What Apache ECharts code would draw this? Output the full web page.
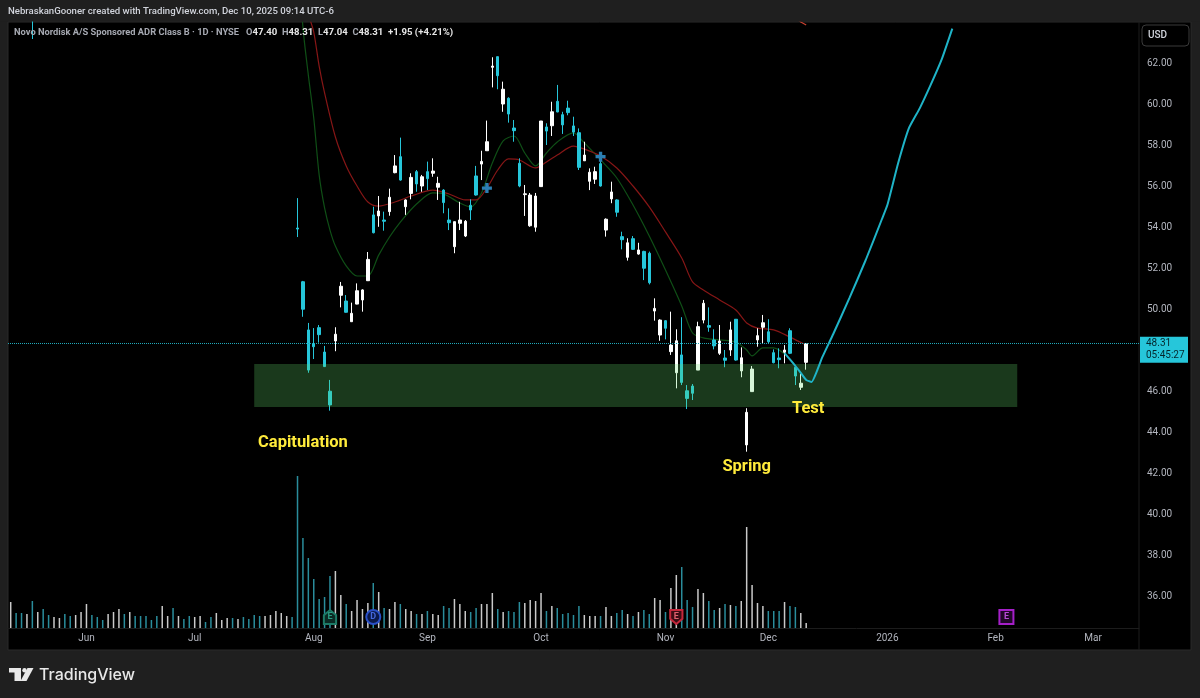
<!DOCTYPE html>
<html style="height: 100%">

<head>
  <meta charset="utf-8">
</head>

<body style="height: 100%; margin: 0; background: #1f1f1f">
  <div id="container" style="width: 1200px; height: 698px"></div>

  <script type="text/javascript" src="https://cdn.jsdelivr.net/npm/echarts/dist/echarts.min.js"></script>

  <script type="text/javascript">
    // trading-day slots on the time axis, future slots included
    var slotCount = 209;
    var monthSlots = [14, 34, 56, 77, 98, 121, 140, 162, 182, 200];
    var monthNames = ['Jun', 'Jul', 'Aug', 'Sep', 'Oct', 'Nov', 'Dec', '2026', 'Feb', 'Mar'];

    // open, close, low, high -- first visible candle sits in slot 53
    var candleStart = 53;
    var candles = [
      [53.95, 53.90, 53.51, 55.41], [51.33, 49.99, 49.62, 51.37], [48.98, 47.02, 46.89, 49.32], [48.29, 48.16, 47.56, 49.07],
      [49.09, 48.75, 48.36, 49.22], [47.90, 47.19, 47.17, 48.20], [45.99, 45.32, 45.04, 46.54], [48.44, 48.77, 47.94, 49.11],
      [50.67, 51.11, 50.08, 51.32], [50.39, 49.84, 49.82, 50.68], [49.38, 49.79, 49.37, 50.31], [50.24, 50.89, 50.23, 51.25],
      [50.44, 50.93, 49.87, 50.96], [51.38, 52.42, 51.37, 52.78], [54.59, 53.72, 53.69, 54.99], [54.54, 54.78, 54.01, 55.51],
      [54.34, 54.28, 53.82, 54.75], [54.75, 55.45, 54.55, 55.87], [56.65, 56.98, 56.62, 57.51], [57.43, 56.29, 56.26, 58.36],
      [54.99, 55.32, 54.59, 55.35], [55.64, 56.42, 55.35, 56.62], [56.70, 56.10, 55.72, 56.78], [56.00, 56.45, 55.72, 56.54],
      [56.70, 56.36, 55.80, 57.19], [56.62, 56.73, 56.45, 57.35], [55.94, 56.13, 55.32, 56.45], [55.80, 55.19, 54.67, 55.84],
      [54.34, 54.21, 53.85, 54.91], [53.04, 54.26, 52.72, 54.26], [54.18, 54.34, 53.85, 55.23], [53.56, 54.28, 53.51, 54.34],
      [55.06, 54.83, 54.34, 55.35], [56.49, 55.56, 55.53, 56.98], [57.07, 57.20, 56.29, 57.72], [57.72, 58.16, 57.72, 59.19],
      [61.79, 61.85, 60.81, 62.28], [62.31, 61.38, 60.72, 62.31], [60.00, 60.72, 59.62, 61.09], [60.28, 59.51, 59.09, 60.33],
      [58.83, 58.70, 58.16, 59.22], [57.11, 56.00, 55.94, 57.35], [55.58, 55.62, 54.54, 56.05], [54.06, 55.56, 54.01, 55.66],
      [53.99, 55.51, 53.77, 55.66], [55.97, 59.17, 55.97, 59.17], [58.88, 58.68, 58.00, 59.06], [58.94, 59.62, 58.44, 60.11],
      [60.13, 59.61, 59.60, 60.93], [59.48, 58.98, 58.54, 59.62], [59.80, 59.58, 59.45, 60.16], [58.93, 58.63, 58.44, 59.38],
      [58.60, 56.91, 56.78, 58.81], [57.23, 57.51, 57.23, 58.16], [56.23, 56.67, 55.80, 56.86], [56.33, 56.70, 56.10, 56.94],
      [57.09, 56.00, 55.97, 57.51], [53.85, 54.38, 53.53, 54.42], [55.37, 55.71, 55.16, 56.21], [55.32, 54.72, 54.50, 55.35],
      [53.53, 53.38, 52.91, 53.77], [52.52, 53.23, 52.36, 53.45], [53.43, 52.91, 52.88, 53.56], [52.68, 52.88, 52.65, 53.23],
      [52.81, 51.99, 51.41, 52.84], [52.72, 51.28, 51.20, 52.80], [49.90, 50.03, 49.43, 50.52], [48.73, 49.46, 48.45, 49.50],
      [49.43, 49.06, 48.52, 49.46], [47.92, 48.24, 47.76, 49.87], [46.89, 48.45, 46.13, 49.01], [47.76, 46.42, 46.29, 49.60],
      [46.01, 45.64, 45.12, 46.29], [46.24, 45.89, 45.56, 46.34], [47.02, 49.14, 47.02, 49.38], [49.46, 50.28, 49.30, 50.44],
      [49.19, 49.11, 48.89, 50.08], [48.49, 48.20, 48.03, 49.01], [47.84, 48.44, 47.76, 49.22], [47.61, 47.50, 47.16, 48.00],
      [48.00, 48.98, 47.71, 49.38], [49.50, 47.51, 47.48, 49.50], [46.98, 47.62, 46.67, 48.13], [43.37, 44.96, 43.04, 45.16],
      [45.97, 47.07, 45.97, 47.22], [48.49, 48.70, 48.16, 49.06], [49.11, 49.33, 48.33, 49.71], [48.89, 48.40, 48.33, 49.50],
      [47.87, 47.38, 47.35, 48.03], [47.61, 47.53, 47.11, 48.08], [47.89, 48.00, 47.35, 48.24], [48.94, 47.84, 47.80, 49.06],
      [47.16, 46.73, 46.29, 47.27], [46.18, 46.38, 46.05, 46.83], [47.40, 48.31, 47.04, 48.31]
    ];
    // only the lower wick of this early candle pokes into view
    var earlySlot = 4;
    var earlyCandle = [66.0, 65.4, 63.17, 67.0];

    // volume in relative units, peak day = 152, one per slot from slot 0
    var volume = [
      26, 15, 15, 14, 27, 16, 19, 13, 11, 10, 14, 12, 13, 16, 24, 13, 11, 8, 14, 16,
      19, 14, 16, 12, 12, 12, 8, 12, 22, 12, 20, 12, 9, 12, 11, 12, 6, 11, 15, 8,
      10, 10, 9, 11, 9, 13, 12, 12, 13, 17, 15, 12, 11, 152, 90, 70, 49, 29, 31, 52,
      57, 33, 24, 17, 28, 19, 25, 45, 36, 20, 19, 26, 24, 19, 17, 14, 14, 17, 14, 13,
      22, 20, 29, 24, 17, 16, 20, 24, 24, 35, 19, 16, 17, 16, 26, 25, 28, 27, 35, 17,
      22, 20, 14, 15, 13, 22, 13, 12, 12, 12, 21, 12, 15, 18, 14, 12, 16, 18, 14, 30,
      28, 16, 40, 53, 61, 28, 21, 39, 35, 27, 18, 20, 24, 23, 22, 27, 101, 43, 25, 22,
      17, 17, 17, 26, 22, 21, 15, 5
    ];
    // w = close up, c = close down
    var volumeDir = 'wccwcwccww' + 'ccwwwcccww' + 'wcwcccccww' + 'cwccwwccww' + 'wcwccccwww' +
                    'wwcccccccc' + 'wwcwwwwcwc' + 'wwcwwcwcww' + 'ccwwwccwww' + 'cwcccwwwwc' +
                    'wcccccwwwc' + 'wwccwcwccw' + 'wcwwcccwwc' + 'cwcwcwwwww' + 'cccwccww';

    // fast moving average: slot, price
    var fastSlots = [53, 54, 55, 56, 57, 58, 59, 60, 62, 64, 66, 68, 70, 72, 75, 78, 80, 83, 85, 87, 89, 91, 93, 95, 97, 99, 101, 104, 106, 109, 112, 115, 118, 121, 124, 126, 128, 131, 134, 136, 137, 139, 141, 143];
    var fastPrices = [68, 63.76, 61.41, 59.32, 56.54, 54.93, 53.85, 53.07, 52.10, 51.61, 51.61, 52.63, 53.51, 54.24, 55.12, 55.66, 55.61, 55.17, 54.98, 55.66, 57.12, 58.20, 58.44, 57.61, 56.98, 57.61, 58.15, 58.59, 58.10, 57.27, 56.39, 55.07, 53.56, 51.90, 50.15, 48.83, 48.59, 48.49, 48.39, 48.00, 47.71, 48.10, 48.10, 47.80];

    // slow moving average
    var slowSlots = [54, 55, 56, 57, 58, 60, 62, 64, 66, 68, 71, 74, 78, 81, 84, 86, 88, 90, 92, 94, 97, 99, 101, 104, 106, 109, 112, 115, 118, 121, 124, 126, 128, 131, 134, 136, 138, 141, 144, 147];
    var slowPrices = [66.5, 64.44, 63.51, 61.85, 60.54, 58.39, 56.98, 56.00, 55.22, 55.02, 55.22, 55.51, 55.80, 55.61, 55.32, 55.32, 55.90, 56.78, 57.32, 57.27, 56.88, 57.17, 57.51, 57.95, 57.80, 57.46, 56.88, 56.00, 54.98, 53.76, 52.49, 51.32, 50.93, 50.44, 49.95, 49.32, 49.07, 48.98, 48.63, 48.24];

    // long average, just clipping the top of the pane
    var longSlots = [145, 146, 147];
    var longPrices = [64.2, 64.0, 63.85];

    // hand drawn projection
    var projectionSlots = [143, 144, 145, 146, 147, 148, 149, 150, 152, 155, 158, 161, 162, 164, 166, 168, 170, 172, 174];
    var projectionPrices = [47.85, 47.54, 47.22, 46.88, 46.54, 46.44, 46.98, 47.66, 48.78, 50.54, 52.39, 54.39, 55.07, 57.12, 58.83, 59.80, 60.93, 62.15, 63.68];

    // green support zone
    var zoneSlots = [45, 186];
    var zonePrices = [47.32, 45.22];

    var lastPrice = 48.31;
    var countdown = '05:45:27';

    var crossSlots = [88, 109];
    var crossPrices = [55.90, 57.43];

    var noteTexts = ['Capitulation', 'Spring', 'Test'];
    var noteSlots = [54, 136, 147];
    var notePrices = [43.48, 42.31, 45.14];

    // earnings and dividend flags, height on the volume scale
    var flagTexts = ['E', 'D', 'E', 'E'];
    var flagSlots = [59, 67, 123, 184];
    var flagLevel = 11;

    var CYAN = '#26c6da';
    var labelColor = '#b2b5be';
    var font = 'Roboto';

    var categories = [];
    for (var i = 0; i < slotCount; i++) {
      var m = monthSlots.indexOf(i);
      categories.push(m >= 0 ? monthNames[m] : '');
    }

    var candleData = categories.map(function () { return '-'; });
    candleData[earlySlot] = earlyCandle;
    candles.forEach(function (c, n) { candleData[candleStart + n] = c; });

    var volumeData = volume.map(function (v, n) {
      return { value: v, itemStyle: { color: volumeDir[n] === 'w' ? '#c9c9c9' : '#2a8d9c' } };
    });

    function pairs(xs, ys) {
      return xs.map(function (x, n) { return [x, ys[n]]; });
    }

    var flagStyles = [
      { symbol: 'path://M1 6L8 0L15 6V16H1Z', border: '#1d7a66', fill: '#0b2a24', text: '#2a9a82' },
      { symbol: 'circle', border: '#2a50c8', fill: '#0c1a4a', text: '#4468dc' },
      { symbol: 'path://M1 0H15V10L8 16L1 10Z', border: '#c4283c', fill: '#3c0d14', text: '#e0606e' },
      { symbol: 'rect', border: '#a51fc9', fill: '#210829', text: '#b84ad6' }
    ];
    var flagData = flagTexts.map(function (t, n) {
      var s = flagStyles[n];
      return {
        value: [flagSlots[n], flagLevel],
        name: t,
        symbol: s.symbol,
        itemStyle: { color: s.fill, borderColor: s.border, borderWidth: 2, opacity: 1 },
        label: { color: s.text }
      };
    });

    var noteData = pairs(noteSlots, notePrices).map(function (p, n) {
      // "Test" sits a touch right of its candle
      return { value: p, label: { offset: n === 2 ? [2, 0] : [0, 0] } };
    });

    var dom = document.getElementById('container');
    var myChart = echarts.init(dom);
    var option = {
      animation: false,
      backgroundColor: '#1f1f1f',
      title: [
        {
          text: 'NebraskanGooner created with TradingView.com, Dec 10, 2025 09:14 UTC-6',
          left: 8, top: 7, padding: 0, z: 30,
          textStyle: { color: '#d1d4dc', fontSize: 9.6, fontWeight: 500, fontFamily: font }
        },
        {
          text: '{n|Novo Nordisk A/S Sponsored ADR Class B · 1D · NYSE}   {n|O}{v|47.40}  {n|H}{v|48.31}  {n|L}{v|47.04}  {n|C}{v|48.31}  {v|+1.95 (+4.21%)}',
          left: 14, top: 28, padding: 0, z: 30,
          textStyle: {
            fontSize: 9.4,
            fontFamily: font,
            rich: {
              n: { color: '#a6a9b2', fontSize: 9.3, fontFamily: font },
              v: { color: '#e6e6e6', fontSize: 9.6, fontWeight: 700, fontFamily: font }
            }
          }
        }
      ],
      graphic: [
        { type: 'rect', z: -10, shape: { x: 8, y: 22, width: 1183, height: 628 }, style: { fill: '#000', stroke: '#2b2b2b', lineWidth: 1 } },
        { type: 'line', z: -9, shape: { x1: 1139, y1: 22, x2: 1139, y2: 650 }, style: { stroke: '#1c1c1c', lineWidth: 1 } },
        // header band on top of the plot, the early candle reaches above the pane
        { type: 'rect', z: 15, shape: { x: 0, y: 0, width: 1200, height: 21.5 }, style: { fill: '#1f1f1f' } },
        { type: 'rect', z: 20, shape: { x: 1142, y: 25, width: 47, height: 21, r: 4 }, style: { fill: '#000', stroke: '#3a3a3a', lineWidth: 1 } },
        { type: 'text', z: 21, x: 1148, y: 30.5, style: { text: 'USD', fill: '#d1d4dc', font: '500 10px Roboto' } },
        // TradingView logo
        { type: 'polygon', z: 20, shape: { points: [[9, 668], [21, 668], [21, 681], [14.5, 681], [14.5, 672.5], [9, 672.5]] }, style: { fill: '#e8e8e8' } },
        { type: 'circle', z: 20, shape: { cx: 24.5, cy: 670.2, r: 2.2 }, style: { fill: '#e8e8e8' } },
        { type: 'polygon', z: 20, shape: { points: [[27.5, 668], [33.5, 668], [26.5, 681], [20.5, 681]] }, style: { fill: '#e8e8e8' } },
        { type: 'text', z: 20, x: 39, y: 667, style: { text: 'TradingView', fill: '#e8e8e8', font: '500 16px Inter' } }
      ],
      grid: [
        { left: 8, top: 22, width: 1131, height: 615 },
        { left: 8, top: 476, width: 1131, height: 152 }
      ],
      xAxis: [
        { type: 'category', gridIndex: 0, data: categories, show: false },
        {
          type: 'category',
          gridIndex: 1,
          data: categories,
          axisLine: { lineStyle: { color: '#1c1c1c' } },
          axisTick: { show: false },
          axisLabel: {
            color: labelColor,
            fontSize: 10,
            fontFamily: font,
            margin: 5,
            interval: function (i, v) { return v !== ''; }
          }
        }
      ],
      yAxis: [
        {
          type: 'value',
          gridIndex: 0,
          position: 'right',
          min: 34,
          max: 64,
          interval: 2,
          splitLine: { show: false },
          axisLine: { show: false },
          axisTick: { show: false },
          axisLabel: {
            color: labelColor,
            fontSize: 10,
            fontFamily: font,
            margin: 8,
            padding: [2, 0, 0, 0],
            formatter: function (v) { return v === 34 || v === 64 ? '' : v.toFixed(2); }
          }
        },
        { type: 'value', gridIndex: 1, min: 0, max: 152, show: false }
      ],
      series: [
        {
          name: 'Volume',
          type: 'bar',
          xAxisIndex: 1,
          yAxisIndex: 1,
          barWidth: 1.5,
          data: volumeData
        },
        {
          name: 'NVO',
          type: 'candlestick',
          xAxisIndex: 0,
          yAxisIndex: 0,
          barWidth: 3,
          itemStyle: { color: '#ffffff', color0: CYAN, borderColor: '#ffffff', borderColor0: CYAN, borderWidth: 1 },
          data: candleData,
          markLine: {
            silent: true,
            symbol: 'none',
            animation: false,
            lineStyle: { type: 'dotted', color: '#1fa9bb', width: 1, opacity: 1 },
            label: {
              show: true,
              position: 'end',
              distance: 1,
              offset: [0, 6],
              formatter: lastPrice.toFixed(2) + '\n' + countdown,
              backgroundColor: CYAN,
              color: '#04262c',
              fontSize: 10,
              fontFamily: font,
              lineHeight: 12,
              padding: [1, 4, 1, 6],
              width: 38
            },
            data: [{ yAxis: lastPrice }]
          }
        },
        {
          name: 'Fast average',
          type: 'line',
          xAxisIndex: 0,
          yAxisIndex: 0,
          z: 1,
          smooth: 0.3,
          showSymbol: false,
          lineStyle: { color: '#0f4f16', width: 1.2 },
          data: pairs(fastSlots, fastPrices)
        },
        {
          name: 'Slow average',
          type: 'line',
          xAxisIndex: 0,
          yAxisIndex: 0,
          z: 1,
          smooth: 0.3,
          showSymbol: false,
          lineStyle: { color: '#861616', width: 1.2 },
          data: pairs(slowSlots, slowPrices)
        },
        {
          name: 'Long average',
          type: 'line',
          xAxisIndex: 0,
          yAxisIndex: 0,
          showSymbol: false,
          lineStyle: { color: '#c8402f', width: 1.2 },
          data: pairs(longSlots, longPrices)
        },
        {
          name: 'Zone',
          type: 'line',
          xAxisIndex: 0,
          yAxisIndex: 0,
          data: [],
          markArea: {
            silent: true,
            z: 5,
            itemStyle: { color: 'rgba(100, 220, 110, 0.26)' },
            data: [[
              { coord: [zoneSlots[0], zonePrices[0]] },
              { coord: [zoneSlots[1], zonePrices[1]] }
            ]]
          }
        },
        {
          name: 'Projection',
          type: 'line',
          xAxisIndex: 0,
          yAxisIndex: 0,
          z: 6,
          smooth: 0.15,
          showSymbol: false,
          lineStyle: { color: '#1fb4c8', width: 2 },
          data: pairs(projectionSlots, projectionPrices)
        },
        {
          name: 'Crosses',
          type: 'scatter',
          xAxisIndex: 0,
          yAxisIndex: 0,
          z: 4,
          symbol: 'path://M3 0H6V3H9V6H6V9H3V6H0V3H3Z',
          symbolSize: 10,
          itemStyle: { color: '#2c7fb3', opacity: 1 },
          data: pairs(crossSlots, crossPrices)
        },
        {
          name: 'Notes',
          type: 'scatter',
          xAxisIndex: 0,
          yAxisIndex: 0,
          z: 7,
          symbolSize: 0,
          itemStyle: { opacity: 1 },
          label: {
            show: true,
            position: 'inside',
            color: '#ffeb3b',
            fontSize: 16.5,
            fontWeight: 700,
            fontFamily: font,
            formatter: function (p) { return noteTexts[p.dataIndex]; }
          },
          data: noteData
        },
        {
          name: 'Flags',
          type: 'scatter',
          xAxisIndex: 1,
          yAxisIndex: 1,
          z: 7,
          symbolSize: 14,
          symbolKeepAspect: true,
          label: { show: true, position: 'inside', fontSize: 9, fontWeight: 700, fontFamily: font, formatter: '{b}' },
          data: flagData
        }
      ]
    };

    myChart.setOption(option, true);
  </script>
</body>

</html>
